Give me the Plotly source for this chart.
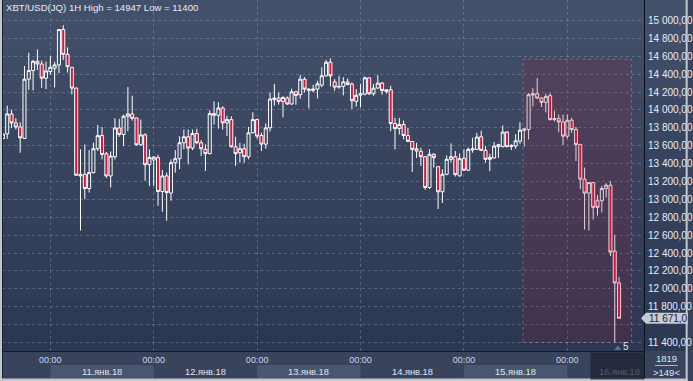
import plotly.graph_objects as go
from datetime import datetime, timedelta

# ---------------- data ----------------
start_time = datetime(2018, 1, 10, 13, 0)

opens = [13680, 13733, 13955, 13855, 13810, 13681, 14344, 14440, 14544, 14514,
         14355, 14429, 14466, 14503, 14899, 14622, 14477, 14244, 13280, 13280,
         13121, 13299, 13566, 13714, 13510, 13262, 13477, 13799, 13725, 13929,
         13955, 13910, 13610, 13721, 13388, 13440, 13466, 13088, 13262, 13070,
         13410, 13455, 13633, 13700, 13574, 13737, 13633, 13559, 13511, 13940,
         13940, 14022, 13855, 13892, 13588, 13522, 13566, 13477, 13744, 13892,
         13714, 13618, 13800, 14114, 14133, 14096, 14133, 14066, 14203, 14170,
         14344, 14218, 14218, 14233, 14277, 14381, 14533, 14314, 14255, 14263,
         14314, 14289, 14096, 14166, 14177, 14359, 14181, 14244, 14300, 14207,
         14226, 13848, 13792, 13837, 13714, 13648, 13566, 13537, 13477, 13133,
         13504, 13366, 13085, 13281, 13448, 13477, 13263, 13459, 13326, 13552,
         13559, 13700, 13548, 13448, 13463, 13589, 13589, 13752, 13592, 13596,
         13652, 13770, 13781, 14166, 14181, 14133, 14085, 14159, 13892, 13903,
         13866, 13707, 13885, 13781, 13614, 13226, 13070, 13188, 12985, 12985,
         13122, 13159, 12422, 12066]
highs = [13740, 14047, 14003, 13907, 13862, 14492, 14640, 14560, 14677, 14551,
         14540, 14603, 14540, 14899, 14947, 14699, 14480, 14251, 13560, 13614,
         13551, 13633, 13833, 13810, 13530, 13536, 13907, 13900, 13947, 14255,
         14159, 13910, 13892, 13740, 13559, 13484, 13500, 13329, 13300, 13447,
         13551, 13707, 13781, 13781, 13781, 13790, 13663, 13614, 13996, 14096,
         14085, 14040, 13937, 13929, 13700, 13633, 13622, 13811, 13974, 13903,
         13744, 13848, 14196, 14292, 14196, 14151, 14151, 14237, 14214, 14392,
         14366, 14240, 14281, 14326, 14477, 14559, 14577, 14344, 14381, 14366,
         14351, 14307, 14233, 14292, 14374, 14359, 14289, 14392, 14311, 14233,
         14270, 13911, 13911, 13881, 13800, 13650, 13633, 13578, 13485, 13559,
         13515, 13370, 13337, 13492, 13626, 13541, 13515, 13559, 13581, 13689,
         13744, 13770, 13596, 13511, 13641, 13622, 13826, 13763, 13615, 13729,
         13863, 13800, 14189, 14244, 14355, 14144, 14181, 14188, 13992, 13948,
         13948, 13948, 13911, 13811, 13620, 13355, 13190, 13195, 13048, 13151,
         13181, 13203, 12603, 12133]
lows = [13675, 13677, 13799, 13781, 13521, 13675, 14225, 14218, 14447, 14247,
        14233, 14392, 14251, 14410, 14559, 14418, 14173, 13262, 12651, 13003,
        13077, 13290, 13540, 13447, 13240, 13133, 13447, 13700, 13596, 13762,
        13880, 13600, 13600, 13207, 13151, 13151, 12929, 12862, 12762, 12984,
        13299, 13337, 13559, 13392, 13551, 13620, 13485, 13318, 13505, 13837,
        13792, 13781, 13707, 13580, 13374, 13411, 13411, 13448, 13740, 13677,
        13540, 13566, 13759, 14048, 14059, 13918, 14059, 14059, 14059, 14125,
        14196, 14018, 14196, 14129, 14255, 14374, 14263, 14214, 14237, 14163,
        14274, 14011, 14037, 14029, 14163, 14166, 14159, 14240, 14170, 14181,
        13763, 13559, 13726, 13670, 13641, 13307, 13463, 13374, 13107, 13114,
        13355, 12892, 12959, 13270, 13411, 13255, 13255, 13318, 13318, 13522,
        13552, 13541, 13411, 13315, 13455, 13463, 13581, 13585, 13552, 13566,
        13622, 13589, 13670, 14040, 14122, 14033, 13974, 13881, 13870, 13751,
        13607, 13677, 13744, 13429, 13114, 12662, 12651, 12774, 12818, 12855,
        13022, 12366, 11400, 11671]
closes = [13730, 13955, 13855, 13810, 13688, 14344, 14440, 14544, 14514, 14355,
          14436, 14477, 14503, 14899, 14622, 14484, 14244, 13270, 13262, 13121,
          13299, 13566, 13714, 13503, 13262, 13484, 13799, 13725, 13929, 13955,
          13907, 13610, 13721, 13388, 13470, 13473, 13088, 13262, 13077, 13410,
          13455, 13633, 13700, 13574, 13737, 13633, 13566, 13511, 13959, 13959,
          14022, 13855, 13892, 13588, 13511, 13566, 13477, 13744, 13892, 13707,
          13618, 13800, 14122, 14133, 14096, 14140, 14066, 14203, 14163, 14344,
          14233, 14233, 14233, 14292, 14381, 14533, 14381, 14255, 14263, 14314,
          14285, 14103, 14163, 14181, 14359, 14181, 14244, 14300, 14218, 14225,
          13848, 13792, 13837, 13714, 13648, 13559, 13541, 13477, 13133, 13504,
          13466, 13085, 13281, 13448, 13477, 13278, 13455, 13326, 13559, 13566,
          13696, 13548, 13448, 13470, 13596, 13611, 13752, 13589, 13603, 13655,
          13774, 13789, 14170, 14181, 14133, 14085, 14151, 13892, 13903, 13866,
          13707, 13885, 13781, 13614, 13226, 13070, 13188, 12911, 12911, 13122,
          13159, 12411, 12066, 11671]

times = [start_time + timedelta(hours=i) for i in range(len(opens))]

y_tick_values = list(range(11400, 15001, 200))
day_starts = [datetime(2018, 1, d) for d in range(11, 17)]
day_labels = ["11.янв.18", "12.янв.18", "13.янв.18", "14.янв.18", "15.янв.18", "16.янв.18"]
zone_start = datetime(2018, 1, 15, 13, 42)
zone_end = datetime(2018, 1, 16, 14, 54)
zone_low, zone_high = 11400, 14567
bar_count_text = "1819"
bar_visible_text = ">149<"
marker_count = "5"


def ru_num(v, d):
    s = f"{v:,.{d}f}"
    return s.replace(",", " ").replace(".", ",")


y_tick_text = ["" if v == 11600 else ru_num(v, 2) for v in y_tick_values]
title_text = f"XBT/USD(JQ) 1H High = {max(highs)} Low = {min(lows)}"

# ---------------- geometry helpers ----------------
W, H = 693, 381
PL, PR, PT, PB = 2, 649, 0, 351


def X(px):
    return (px - PL) / (PR - PL)


def Y(py):
    return 1 - (py - PT) / (PB - PT)


FONT = "Liberation Sans, Arial, sans-serif"

fig = go.Figure()
fig.add_trace(go.Candlestick(
    x=times, open=opens, high=highs, low=lows, close=closes,
    increasing=dict(line=dict(color="#ffffff", width=1), fillcolor="rgba(0,0,0,0)"),
    decreasing=dict(line=dict(color="#ffffff", width=1), fillcolor="#dc143c"),
    whiskerwidth=0, hoverinfo="skip", showlegend=False,
))

shapes = []
# gradient background (chart + right panel)
N = 14
top = (67, 80, 106)
bot = (44, 55, 81)
for i in range(N):
    t = i / (N - 1)
    c = tuple(round(top[j] + (bot[j] - top[j]) * t) for j in range(3))
    shapes.append(dict(type="rect", xref="paper", yref="paper", layer="below",
                       x0=X(0), x1=X(W), y0=Y(PB * i / N), y1=Y(PB * (i + 1) / N),
                       fillcolor=f"rgb{c}", line=dict(width=0)))
# alternating date bands in x strip
for i, d in enumerate(day_starts):
    if i % 2 == 0:
        shapes.append(dict(type="rect", xref="x", yref="paper", layer="below",
                           x0=d, x1=d + timedelta(days=1), y0=Y(365), y1=Y(378),
                           fillcolor="rgb(74,86,110)", line=dict(width=0)))
# highlighted zone
shapes.append(dict(type="rect", xref="x", yref="y", layer="above",
                   x0=zone_start, x1=zone_end, y0=zone_low, y1=zone_high,
                   fillcolor="rgba(150,30,60,0.2)",
                   line=dict(color="rgba(170,140,160,0.55)", width=1, dash="3px,3px")))
# separators
shapes.append(dict(type="line", xref="paper", yref="paper", layer="above",
                   x0=X(649.5), x1=X(649.5), y0=Y(0), y1=Y(378),
                   line=dict(color="#0c1018", width=1)))
shapes.append(dict(type="line", xref="paper", yref="paper", layer="above",
                   x0=X(0), x1=X(649.5), y0=Y(351.5), y1=Y(351.5),
                   line=dict(color="#141a26", width=1)))
shapes.append(dict(type="line", xref="paper", yref="paper", layer="above",
                   x0=X(2.5), x1=X(2.5), y0=Y(0), y1=Y(378),
                   line=dict(color="#1a2232", width=1)))
# outer light frame
shapes.append(dict(type="rect", xref="paper", yref="paper", layer="above",
                   x0=X(0), x1=X(2), y0=Y(0), y1=Y(H), fillcolor="#c3c8d0", line=dict(width=0)))
shapes.append(dict(type="rect", xref="paper", yref="paper", layer="above",
                   x0=X(0), x1=X(W), y0=Y(378.5), y1=Y(H), fillcolor="#c3c8d0", line=dict(width=0)))
shapes.append(dict(type="rect", xref="paper", yref="paper", layer="above",
                   x0=X(691), x1=X(W), y0=Y(0), y1=Y(H), fillcolor="#c3c8d0", line=dict(width=0)))
# bottom-right box divider
shapes.append(dict(type="line", xref="paper", yref="paper", layer="above",
                   x0=X(660), x1=X(683), y0=Y(365.5), y1=Y(365.5),
                   line=dict(color="#aab4c4", width=1)))
# price tag (anchored at last close)
shapes.append(dict(type="path", xref="paper", yref="y", ysizemode="pixel",
                   yanchor=closes[-1], layer="above",
                   path=f"M {X(646)} 0 L {X(651)} 5.5 L {X(W)} 5.5 L {X(W)} -5.5 L {X(651)} -5.5 Z",
                   fillcolor="#c5cad3", line=dict(width=0)))
# small triangle marker
shapes.append(dict(type="path", xref="paper", yref="paper", layer="above",
                   path=f"M {X(619)} {Y(350)} L {X(622.5)} {Y(345.5)} L {X(626)} {Y(350)} Z",
                   fillcolor="rgba(110,130,165,0.8)", line=dict(width=0)))

annotations = [
    dict(text=title_text, xref="paper", yref="paper", x=X(4), y=Y(8),
         xanchor="left", yanchor="middle", showarrow=False,
         font=dict(family=FONT, size=9.6, color="#e6ebf4")),
]
for d, lab in zip(day_starts, day_labels):
    annotations.append(dict(text=lab, xref="x", yref="paper", x=d + timedelta(hours=12),
                            y=Y(371.5), xanchor="center", yanchor="middle", showarrow=False,
                            font=dict(family=FONT, size=9.3, color="#dfe5ef")))
# dark overlay on the current-day strip
annotations.append(dict(text=" ", xref="paper", yref="paper", x=X(595), y=Y(352),
                        xanchor="left", yanchor="top", width=53, height=26, borderpad=0,
                        bgcolor="rgba(26,32,48,0.72)", showarrow=False,
                        font=dict(size=2)))
annotations.append(dict(text=ru_num(closes[-1], 1), xref="paper", yref="y", x=X(652),
                        y=closes[-1], xanchor="left", yanchor="middle", showarrow=False,
                        font=dict(family=FONT, size=10, color="#1b2130")))
annotations.append(dict(text=marker_count, xref="paper", yref="paper", x=X(631), y=Y(346.5),
                        xanchor="center", yanchor="middle", showarrow=False,
                        font=dict(family=FONT, size=10, color="#dce6f6")))
annotations.append(dict(text=bar_count_text, xref="paper", yref="paper", x=X(671.5), y=Y(358.5),
                        xanchor="center", yanchor="middle", showarrow=False,
                        font=dict(family=FONT, size=9.5, color="#dfe5ef")))
annotations.append(dict(text=bar_visible_text, xref="paper", yref="paper", x=X(671.5), y=Y(372),
                        xanchor="center", yanchor="middle", showarrow=False,
                        font=dict(family=FONT, size=9.5, color="#dfe5ef")))

grid_col = "rgba(150,165,195,0.38)"
fig.update_layout(
    width=W, height=H,
    margin=dict(l=PL, r=W - PR, t=PT, b=H - PB, pad=0),
    paper_bgcolor="rgb(57,68,92)",
    plot_bgcolor="rgba(0,0,0,0)",
    showlegend=False,
    boxgap=0.3, boxgroupgap=0,
    xaxis=dict(
        type="date",
        range=[start_time - timedelta(hours=0.2165), start_time + timedelta(hours=148.79)],
        rangeslider=dict(visible=False),
        showgrid=True, gridcolor=grid_col, gridwidth=1, griddash="3px,3px",
        tick0="2018-01-11 00:00", dtick=86400000, tickformat="%H:%M",
        ticks="", showline=False, zeroline=False,
        tickfont=dict(family=FONT, size=9, color="#c8d6f0"),
        ticklabelstandoff=2,
    ),
    yaxis=dict(
        side="right", range=[11305, 15229],
        tickmode="array", tickvals=y_tick_values, ticktext=y_tick_text,
        showgrid=True, gridcolor=grid_col, gridwidth=1, griddash="3px,3px",
        ticks="", showline=False, zeroline=False,
        tickfont=dict(family=FONT, size=10, color="#e8edf5"),
        ticklabelstandoff=3,
    ),
    shapes=shapes,
    annotations=annotations,
)

fig.write_html("out.html")
